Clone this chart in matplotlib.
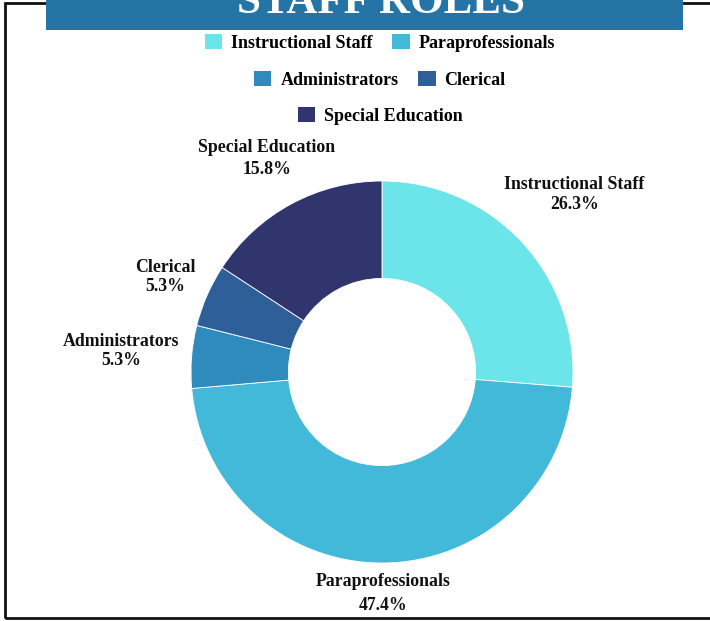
import matplotlib
matplotlib.use("Agg")
import matplotlib.pyplot as plt
import numpy as np
from matplotlib.patches import Patch, Rectangle

TITLE = "STAFF ROLES"
ROLES = ["Instructional Staff", "Paraprofessionals", "Administrators", "Clerical",
         "Special Education"]
SHARES = [26.3, 47.4, 5.3, 5.3, 15.8]
COLORS = ["#6be5e9", "#42b9d8", "#2e8bbb", "#2e5f99", "#31356e"]
LEGEND_ROWS = [[0, 1], [2, 3], [4]]
LABEL_DIST = [1.37, 1.16, 1.37, 1.24, 1.27]
LABEL_SPACING = [1.25, 1.5, 1.15, 1.15, 1.4]

W, H = 710, 621
CX, CY, R = 382, 372, 191  # donut centre / radius in pixels

plt.rcParams["font.family"] = ["Liberation Serif", "DejaVu Serif"]
plt.rcParams["font.weight"] = "bold"


def fx(x):
    return x / W


def fy(y):
    return 1 - y / H


fig = plt.figure(figsize=(W / 100, H / 100), dpi=100)
fig.patch.set_facecolor("white")

ax = fig.add_axes([0, 0, 1, 1])
ax.axis("off")

ax.pie(SHARES, colors=COLORS, startangle=90, counterclock=False, radius=1,
       wedgeprops=dict(width=0.51, edgecolor="white", linewidth=0.6))
ax.set_aspect("equal")
ax.set_xlim(-CX / R, (W - CX) / R)
ax.set_ylim(-(H - CY) / R, CY / R)

total = sum(SHARES)
cum = np.cumsum([0] + SHARES[:-1])
for name, v, c0, d, ls in zip(ROLES, SHARES, cum, LABEL_DIST, LABEL_SPACING):
    ang = np.deg2rad(90 - 360 * (c0 + v / 2) / total)
    ax.text(d * np.cos(ang), d * np.sin(ang), f"{name}\n{v:.1f}%", ha="center", va="center",
            fontsize=12.8, fontweight="bold", linespacing=ls, color="#111111")

# frame and title banner
fig.add_artist(Rectangle((fx(5), fy(618)), fx(720) - fx(5), fy(3) - fy(618),
                         transform=fig.transFigure, fill=False, edgecolor="#111111", lw=2))
fig.add_artist(Rectangle((fx(46), fy(30)), fx(683) - fx(46), fy(-5) - fy(30),
                         transform=fig.transFigure, facecolor="#2474a6", edgecolor="none"))
fig.text(fx(381), fy(13), TITLE, ha="center", va="baseline", color="white",
         fontsize=31, fontweight="bold")

# legend, three centred rows
for row, yc in zip(LEGEND_ROWS, [43, 80, 116]):
    handles = [Patch(facecolor=COLORS[i], edgecolor="none") for i in row]
    fig.legend(handles, [ROLES[i] for i in row], loc="center", ncol=len(row),
               bbox_to_anchor=(fx(380), fy(yc)), frameon=False, fontsize=13,
               handlelength=0.95, handleheight=0.85, handletextpad=0.5,
               columnspacing=1.1, borderpad=0)

fig.savefig("out.png", dpi=100)
